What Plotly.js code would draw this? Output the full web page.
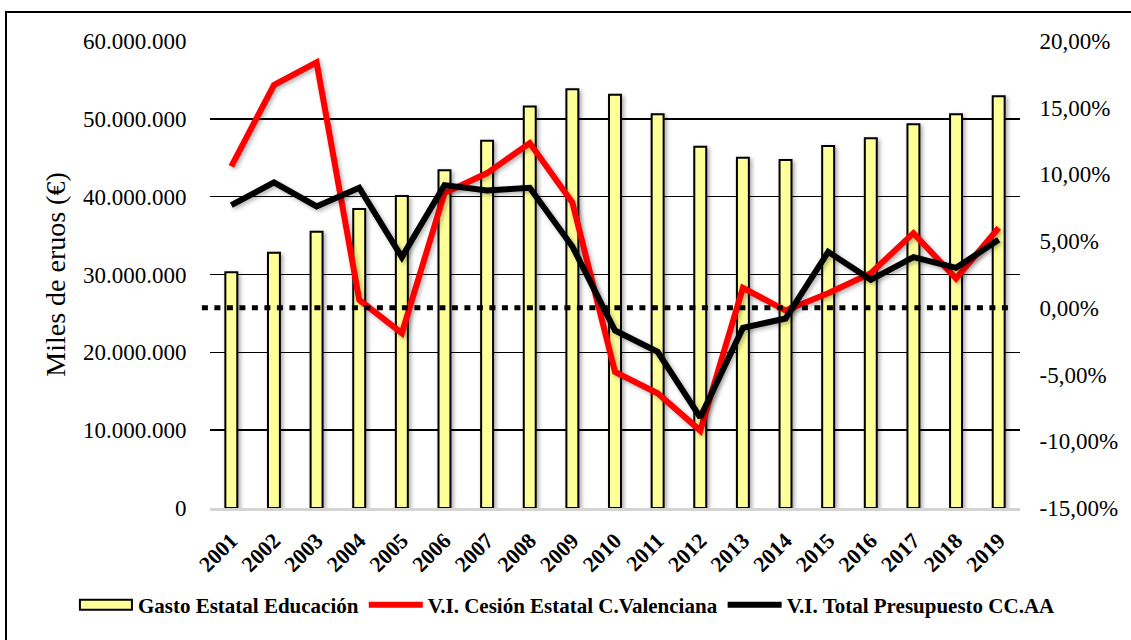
<!DOCTYPE html>
<html>
<head>
<meta charset="utf-8">
<script src="https://cdn.plot.ly/plotly-3.0.1.min.js"></script>
<style>
  html, body { margin: 0; padding: 0; background: #fff; overflow: hidden; }
  #graph { width: 1131px; height: 640px; }
  #frame {
    position: absolute;
    left: 5px;
    top: 11px;
    width: 2000px;
    height: 2000px;
    border-left: 2px solid #000;
    border-top: 2px solid #000;
    pointer-events: none;
  }
  #graph .barlayer path {
    filter: drop-shadow(2px 2px 2px rgba(0, 0, 0, 0.35));
  }
  #graph .scatterlayer .js-line {
    filter: drop-shadow(2px 2px 2px rgba(0, 0, 0, 0.3));
  }
</style>
</head>
<body>
<div id="graph"></div>
<div id="frame"></div>
<script>
/*global window, document, Plotly */
var years = ['2001', '2002', '2003', '2004', '2005', '2006', '2007', '2008',
  '2009', '2010', '2011', '2012', '2013', '2014', '2015', '2016', '2017',
  '2018', '2019'];

// Gasto Estatal Educacion, miles de euros
var gasto_educacion = [30300000, 32800000, 35500000, 38400000, 40100000,
  43400000, 47200000, 51600000, 53800000, 53100000, 50600000, 46400000,
  45000000, 44700000, 46500000, 47500000, 49300000, 50600000, 52900000];

// variacion interanual, %
var vi_cesion_cv = [10.6, 16.7, 18.4, 0.6, -1.9, 8.6, 10.1, 12.35, 7.9,
  -4.8, -6.4, -9.2, 1.5, -0.2, 1.1, 2.6, 5.6, 2.2, 6.0];
var vi_total_ccaa = [7.7, 9.4, 7.6, 9.0, 3.8, 9.2, 8.8, 9.0, 4.6, -1.7,
  -3.3, -8.2, -1.5, -0.8, 4.2, 2.1, 3.8, 3.0, 5.1];

var left_tick_vals = [0, 10000000, 20000000, 30000000, 40000000, 50000000,
  60000000];
var left_tick_text = ['0', '10.000.000', '20.000.000', '30.000.000',
  '40.000.000', '50.000.000', '60.000.000'];
var right_tick_vals = [-15, -10, -5, 0, 5, 10, 15, 20];
var right_tick_text = ['-15,00%', '-10,00%', '-5,00%', '0,00%', '5,00%',
  '10,00%', '15,00%', '20,00%'];

(function (window, document, Plotly) {
  'use strict';

  var FONT = '"Liberation Serif", "Times New Roman", serif';

  function getTraces() {
    return [
      {
        type: 'bar',
        x: years,
        y: gasto_educacion,
        name: 'Gasto Estatal Educación',
        marker: {
          color: '#FFFF99',
          line: {color: '#000000', width: 2}
        },
        yaxis: 'y'
      },
      {
        type: 'scatter',
        mode: 'lines',
        x: years,
        y: vi_cesion_cv,
        name: 'V.I. Cesión Estatal C.Valenciana',
        line: {color: '#FF0000', width: 6},
        yaxis: 'y2'
      },
      {
        type: 'scatter',
        mode: 'lines',
        x: years,
        y: vi_total_ccaa,
        name: 'V.I. Total Presupuesto CC.AA',
        line: {color: '#000000', width: 6},
        yaxis: 'y2'
      }
    ];
  }

  function getLayout() {
    return {
      width: 1131,
      height: 640,
      margin: {l: 210, r: 111, t: 41, b: 132},
      paper_bgcolor: 'rgba(0,0,0,0)',
      plot_bgcolor: '#ffffff',
      font: {family: FONT, color: '#000000', size: 23},
      bargap: 0.72,
      showlegend: true,
      legend: {
        orientation: 'h',
        x: -0.168,
        xanchor: 'left',
        y: -0.252,
        yanchor: 'bottom',
        font: {family: FONT, size: 21, weight: 'bold'},
        traceorder: 'normal',
        itemwidth: 54,
        tracegroupgap: 0
      },
      xaxis: {
        type: 'category',
        tickangle: -45,
        tickfont: {family: FONT, size: 22, weight: 'bold'},
        showgrid: false,
        showline: true,
        linecolor: '#d4d4d4',
        linewidth: 3,
        ticks: 'outside',
        ticklen: 8,
        tickcolor: 'rgba(0,0,0,0)',
        automargin: false,
        fixedrange: true
      },
      yaxis: {
        range: [0, 60000000],
        tickvals: left_tick_vals,
        ticktext: left_tick_text,
        showgrid: true,
        gridcolor: '#000000',
        gridwidth: 1.5,
        zeroline: false,
        ticks: 'outside',
        ticklen: 18,
        tickcolor: 'rgba(0,0,0,0)',
        tickfont: {family: FONT, size: 23},
        title: {
          text: 'Miles de eruos (€)',
          font: {family: FONT, size: 28},
          standoff: 9
        },
        automargin: false,
        fixedrange: true
      },
      yaxis2: {
        overlaying: 'y',
        side: 'right',
        range: [-15, 20],
        tickvals: right_tick_vals,
        ticktext: right_tick_text,
        showgrid: false,
        zeroline: false,
        ticks: 'outside',
        ticklen: 14,
        tickcolor: 'rgba(0,0,0,0)',
        tickfont: {family: FONT, size: 23},
        automargin: false,
        fixedrange: true
      },
      shapes: [
        {
          // 0% reference line
          type: 'line',
          xref: 'paper',
          yref: 'y2',
          x0: -0.01,
          x1: 0.99,
          y0: 0,
          y1: 0,
          line: {color: '#000000', width: 5, dash: '6px,6.5px'}
        }
      ]
    };
  }

  function widenBarSwatch(element) {
    var entries = element.querySelectorAll('.legend .traces'),
      swatch;
    if (!entries.length) {
      return;
    }
    swatch = entries[0].querySelector('.legendpoints path');
    if (swatch) {
      swatch.setAttribute('d', 'M26,5H-26V-5H26Z');
    }
  }

  var graph = document.getElementById('graph');
  Plotly.newPlot(graph, getTraces(), getLayout(),
    {displayModeBar: false, staticPlot: true})
    .then(function () {
      widenBarSwatch(graph);
      window.setTimeout(function () {
        widenBarSwatch(graph);
      }, 0);
    });

}(window, document, Plotly));
</script>
</body>
</html>
